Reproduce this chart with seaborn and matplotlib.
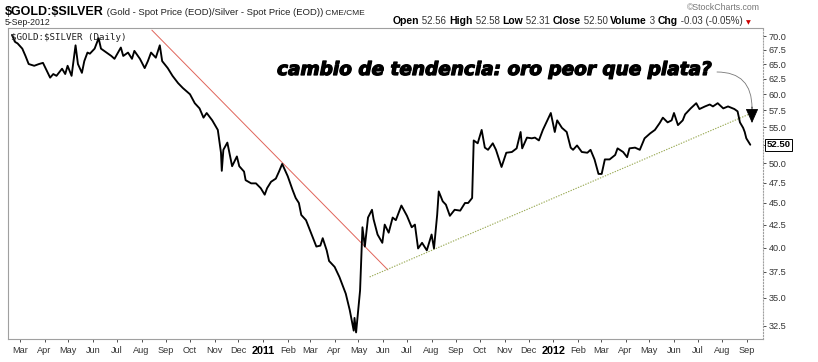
import matplotlib
matplotlib.use("Agg")
import matplotlib.pyplot as plt
import matplotlib.patheffects as pe
from matplotlib.ticker import NullLocator, FixedLocator, FixedFormatter
import pandas as pd
import seaborn as sns

# ---------------- data ----------------
dates = [
    "2010-02-19", "2010-02-23", "2010-02-26", "2010-03-04", "2010-03-08", "2010-03-12",
    "2010-03-19", "2010-03-25", "2010-03-30", "2010-04-05", "2010-04-08", "2010-04-12",
    "2010-04-16", "2010-04-23", "2010-04-27", "2010-04-30", "2010-05-05", "2010-05-10",
    "2010-05-13", "2010-05-18", "2010-05-21", "2010-05-25", "2010-05-28", "2010-06-03",
    "2010-06-08", "2010-06-11", "2010-06-18", "2010-06-24", "2010-06-28", "2010-07-06",
    "2010-07-09", "2010-07-15", "2010-07-20", "2010-07-23", "2010-07-30", "2010-08-05",
    "2010-08-09", "2010-08-13", "2010-08-19", "2010-08-24", "2010-08-27", "2010-09-03",
    "2010-09-09", "2010-09-16", "2010-09-22", "2010-10-01", "2010-10-07", "2010-10-13",
    "2010-10-18", "2010-10-22", "2010-10-29", "2010-11-05", "2010-11-09", "2010-11-10",
    "2010-11-12", "2010-11-17", "2010-11-23", "2010-11-29", "2010-12-02", "2010-12-08",
    "2010-12-10", "2010-12-17", "2010-12-23", "2010-12-29", "2011-01-03", "2011-01-06",
    "2011-01-11", "2011-01-17", "2011-01-21", "2011-01-25", "2011-02-01", "2011-02-07",
    "2011-02-11", "2011-02-15", "2011-02-18", "2011-02-24", "2011-03-03", "2011-03-09",
    "2011-03-14", "2011-03-17", "2011-03-22", "2011-03-25", "2011-04-01", "2011-04-07",
    "2011-04-11", "2011-04-15", "2011-04-20", "2011-04-25", "2011-04-26", "2011-04-28",
    "2011-05-03", "2011-05-06", "2011-05-09", "2011-05-13", "2011-05-18", "2011-05-20",
    "2011-05-25", "2011-05-31", "2011-06-03", "2011-06-08", "2011-06-13", "2011-06-17",
    "2011-06-24", "2011-07-01", "2011-07-07", "2011-07-11", "2011-07-15", "2011-07-20",
    "2011-07-26", "2011-08-01", "2011-08-04", "2011-08-08", "2011-08-10", "2011-08-15",
    "2011-08-19", "2011-08-24", "2011-08-30", "2011-09-06", "2011-09-12", "2011-09-16",
    "2011-09-21", "2011-09-23", "2011-09-28", "2011-10-03", "2011-10-07", "2011-10-11",
    "2011-10-17", "2011-10-21", "2011-10-28", "2011-11-03", "2011-11-10", "2011-11-16",
    "2011-11-21", "2011-11-23", "2011-11-29", "2011-12-05", "2011-12-09", "2011-12-14",
    "2011-12-19", "2011-12-23", "2011-12-29", "2012-01-03", "2012-01-06", "2012-01-12",
    "2012-01-18", "2012-01-23", "2012-01-26", "2012-01-31", "2012-02-06", "2012-02-13",
    "2012-02-17", "2012-02-22", "2012-02-27", "2012-03-02", "2012-03-06", "2012-03-12",
    "2012-03-19", "2012-03-22", "2012-03-29", "2012-04-03", "2012-04-06", "2012-04-13",
    "2012-04-19", "2012-04-25", "2012-05-02", "2012-05-08", "2012-05-14", "2012-05-18",
    "2012-05-24", "2012-05-29", "2012-06-01", "2012-06-06", "2012-06-12", "2012-06-15",
    "2012-06-22", "2012-06-29", "2012-07-03", "2012-07-10", "2012-07-16", "2012-07-20",
    "2012-07-26", "2012-08-02", "2012-08-08", "2012-08-16", "2012-08-20", "2012-08-23",
    "2012-08-27", "2012-08-29", "2012-08-31", "2012-09-05",
]
ratio = [
    70.2, 68.9, 68.65, 67.7, 66.4, 65.0,
    64.7, 65.0, 65.2, 63.5, 62.7, 63.3,
    63.0, 64.2, 63.3, 64.7, 63.0, 68.3,
    65.0, 63.5, 65.5, 67.0, 66.8, 67.7,
    69.6, 67.7, 67.0, 66.4, 65.9, 67.9,
    66.4, 67.0, 65.9, 67.3, 65.9, 64.3,
    65.5, 67.0, 66.1, 68.3, 65.5, 64.3,
    63.0, 61.8, 61.0, 60.0, 58.6, 57.8,
    56.4, 57.1, 56.0, 54.6, 51.4, 49.0,
    51.8, 52.8, 49.6, 50.9, 49.6, 48.9,
    47.8, 47.4, 47.4, 46.8, 46.0, 46.8,
    47.6, 48.0, 48.9, 49.9, 48.3, 46.6,
    45.6, 45.0, 43.6, 43.0, 41.4, 40.1,
    40.2, 41.0, 39.7, 38.6, 38.0, 37.0,
    36.2, 35.4, 33.9, 32.1, 33.2, 31.95,
    35.7, 42.2, 40.1, 43.3, 44.2, 43.1,
    41.4, 40.5, 42.5, 41.6, 43.3, 43.0,
    44.7, 43.5, 42.2, 42.5, 39.9, 40.5,
    39.7, 41.4, 39.9, 43.6, 46.4, 45.2,
    44.8, 43.5, 44.2, 44.1, 45.0, 45.0,
    45.6, 53.1, 52.7, 54.6, 52.1, 51.8,
    52.7, 51.8, 49.5, 51.4, 51.5, 52.0,
    54.3, 52.0, 53.5, 53.4, 53.5, 53.1,
    54.6, 55.6, 57.1, 54.3, 56.0, 54.9,
    54.3, 52.1, 51.8, 52.4, 51.5, 51.4,
    51.8, 50.5, 48.6, 48.6, 50.5, 50.5,
    51.1, 52.0, 51.5, 50.8, 52.0, 52.1,
    51.8, 53.4, 54.1, 54.6, 55.6, 56.4,
    55.7, 56.0, 57.1, 55.3, 56.0, 56.9,
    57.8, 58.6, 57.7, 58.1, 58.4, 58.1,
    58.6, 57.8, 58.1, 57.7, 57.35, 55.7,
    54.9, 54.3, 53.4, 52.5,
]

red_trend_dates = ["2010-08-14", "2011-06-07"]
red_trend_vals = [71.1, 37.7]
green_trend_dates = ["2011-05-15", "2012-09-07"]
green_trend_vals = [37.0, 57.1]

last_close = 52.50

y_ticks = [32.5, 35.0, 37.5, 40.0, 42.5, 45.0, 47.5, 50.0, 52.5, 55.0,
           57.5, 60.0, 62.5, 65.0, 67.5, 70.0]
x_tick_dates = [
    "2010-03-01", "2010-04-01", "2010-05-01", "2010-06-01", "2010-07-01", "2010-08-01",
    "2010-09-01", "2010-10-01", "2010-11-01", "2010-12-01", "2011-01-01", "2011-02-01",
    "2011-03-01", "2011-04-01", "2011-05-01", "2011-06-01", "2011-07-01", "2011-08-01",
    "2011-09-01", "2011-10-01", "2011-11-01", "2011-12-01", "2012-01-01", "2012-02-01",
    "2012-03-01", "2012-04-01", "2012-05-01", "2012-06-01", "2012-07-01", "2012-08-01",
    "2012-09-01",
]
x_tick_labels = [
    "Mar", "Apr", "May", "Jun", "Jul", "Aug", "Sep", "Oct", "Nov", "Dec", "2011", "Feb",
    "Mar", "Apr", "May", "Jun", "Jul", "Aug", "Sep", "Oct", "Nov", "Dec", "2012", "Feb",
    "Mar", "Apr", "May", "Jun", "Jul", "Aug", "Sep",
]

title_main = "$GOLD:$SILVER"
title_desc = "(Gold - Spot Price (EOD)/Silver - Spot Price (EOD))"
title_exch = "CME/CME"
date_label = "5-Sep-2012"
inner_label = "$GOLD:$SILVER (Daily)"
annotation = "cambio de tendencia: oro peor que plata?"
quote_parts = [("Open", True), (" 52.56 ", False), ("High", True), (" 52.58 ", False),
               ("Low", True), (" 52.31 ", False), ("Close", True), (" 52.50 ", False),
               ("Volume", True), (" 3 ", False), ("Chg", True), (" -0.03 (-0.05%) ", False)]

# ---------------- figure ----------------
sns.set_style("white")
plt.rcParams["font.family"] = ["Liberation Sans", "DejaVu Sans"]

W, H = 818, 362
fig = plt.figure(figsize=(W / 100, H / 100), dpi=100)
fig.patch.set_facecolor("white")

L, R, T, B = 8, 763, 28, 339
ax = fig.add_axes([L / W, 1 - B / H, (R - L) / W, (B - T) / H])

df = pd.DataFrame({"date": pd.to_datetime(dates), "ratio": ratio})
sns.lineplot(data=df, x="date", y="ratio", ax=ax, color="black", lw=1.35)

ax.plot(pd.to_datetime(red_trend_dates), red_trend_vals, color="#e0645a", lw=0.7, zorder=1)
ax.plot(pd.to_datetime(green_trend_dates), green_trend_vals, color="#9aaa55", lw=0.8,
        ls=(0, (1.2, 1.2)), zorder=1)

ax.set_yscale("log")
ax.set_ylim(31.4, 71.5)
ax.set_xlim(pd.Timestamp("2010-02-14"), pd.Timestamp("2012-09-21"))
ax.set_xlabel("")
ax.set_ylabel("")

ax.yaxis.tick_right()
ax.yaxis.set_major_locator(FixedLocator(y_ticks))
ax.yaxis.set_major_formatter(FixedFormatter(
    ["" if v == last_close else f"{v:.1f}" for v in y_ticks]))
ax.yaxis.set_minor_locator(NullLocator())
ax.tick_params(axis="y", which="major", labelsize=6.6, colors="#333333", length=2,
               width=0.6, pad=2, labelright=True, labelleft=False, right=True, left=False)

ax.set_xticks(pd.to_datetime(x_tick_dates))
ax.set_xticklabels(x_tick_labels)
ax.xaxis.set_minor_locator(NullLocator())
ax.tick_params(axis="x", which="major", labelsize=6.6, colors="#333333", length=2,
               width=0.6, pad=3, bottom=True)
for lab in ax.get_xticklabels():
    if lab.get_text().isdigit():
        lab.set_fontweight("bold")
        lab.set_fontsize(7.8)
        lab.set_color("black")

for side in ["left", "top", "bottom", "right"]:
    ax.spines[side].set_color("#a0a0a0")
    ax.spines[side].set_linewidth(0.8)
ax.spines["right"].set_linestyle(":")
ax.grid(False)

# last value tag
ax.annotate(f"{last_close:.2f}", xy=(1.0, last_close), xycoords=("axes fraction", "data"),
            xytext=(2.5, 0), textcoords="offset points", ha="left", va="center",
            fontsize=6.8, fontweight="bold", color="black",
            bbox=dict(boxstyle="square,pad=0.15", fc="white", ec="black", lw=0.7))

# inner label
ax.text(0.004, 0.985, inner_label, transform=ax.transAxes, ha="left", va="top",
        fontsize=6.6, family="DejaVu Sans Mono", color="#222222", parse_math=False)

# annotation text + curved arrow
fig.text(277 / W, 1 - 70 / H, annotation, ha="left", va="center", fontsize=13.3,
         fontweight="bold", style="italic", family=["DejaVu Sans"], color="black",
         path_effects=[pe.withStroke(linewidth=0.9, foreground="black")])
ax.annotate("", xy=(752, H - 108), xycoords="figure pixels",
            xytext=(717, H - 72), textcoords="figure pixels",
            arrowprops=dict(arrowstyle="-", connectionstyle="angle3,angleA=0,angleB=90",
                            color="#777777", lw=0.6, shrinkA=0, shrinkB=0))
ax.annotate("", xy=(752, H - 123), xycoords="figure pixels",
            xytext=(752, H - 107), textcoords="figure pixels",
            arrowprops=dict(arrowstyle="-|>,head_length=0.9,head_width=0.4",
                            color="black", lw=0.6, shrinkA=0, shrinkB=0))

# header texts
renderer = fig.canvas.get_renderer()


def run_texts(x_px, y_px, parts):
    x = x_px
    for s, kw in parts:
        t = fig.text(x / W, 1 - y_px / H, s, ha="left", va="baseline", parse_math=False, **kw)
        x += t.get_window_extent(renderer=renderer).width
    return x


run_texts(5, 15, [
    (title_main, dict(fontsize=9, fontweight="bold", color="black",
                      family=["Liberation Sans Narrow", "Liberation Sans"])),
    (" " + title_desc, dict(fontsize=6.8, color="#222222")),
    (" " + title_exch, dict(fontsize=6, color="#222222")),
])
fig.text(5 / W, 1 - 25 / H, date_label, ha="left", va="baseline", fontsize=6.3, color="#222222")

parts = []
for s, bold in quote_parts:
    if bold:
        parts.append((s, dict(fontsize=7.5, fontweight="bold", color="black")))
    else:
        parts.append((s, dict(fontsize=7, color="#333333")))
xe = run_texts(393, 24, parts)
fig.text(xe / W, 1 - 24 / H, "\u25BC", ha="left", va="baseline", fontsize=4.5,
         color="#cc0000", family=["DejaVu Sans"])
fig.text(760 / W, 1 - 10 / H, "\u00A9StockCharts.com", ha="right", va="baseline",
         fontsize=6.3, color="#777777")

fig.savefig("out.png", dpi=100, facecolor="white")
